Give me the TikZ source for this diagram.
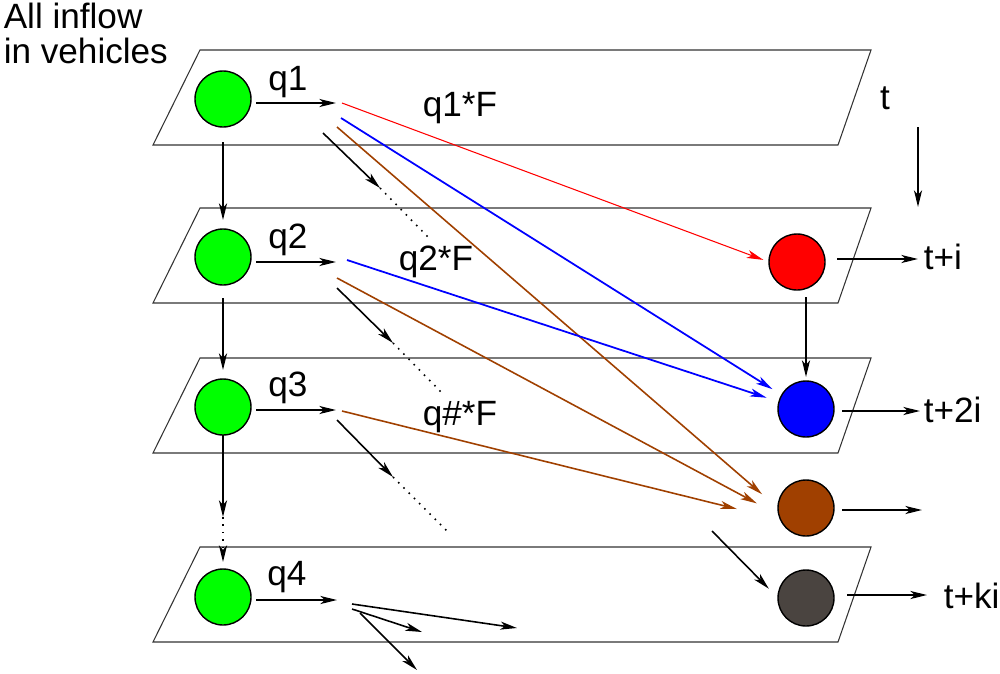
\documentclass[tikz,border=0pt]{standalone}
\usepackage{fontspec}
\setmainfont{Liberation Sans}
\usetikzlibrary{arrows.meta, positioning}

\definecolor{inflow}{RGB}{0,255,0}
\definecolor{rust}{RGB}{160,64,0}
\definecolor{soot}{RGB}{74,68,64}

\begin{document}
\begin{tikzpicture}[x=0.2mm, y=-0.2mm, line width=0.9pt,
    >={Stealth[length=9.5pt, width=4.6pt, inset=2.6pt]},
    veh/.style={circle, draw, line width=0.8pt, minimum size=11.2mm, inner sep=0pt, outer sep=0pt},
    lbl/.style={font=\fontsize{20}{20}\selectfont, inner sep=0pt},
    plane/.style={draw=black!80, line width=0.6pt},
    gap/.style={dash pattern=on 0.9pt off 3.3pt}]
    \useasboundingbox (0,0) rectangle (1000,673);

    % time slices
    \foreach \y in {50,208,358,547}
        \draw[plane] (200,\y) -- (871,\y) -- (838,\y+95) -- (153,\y+95) -- cycle;

    \node[lbl, anchor=north west, align=left] (head) at (3,2) {All inflow\\in vehicles};

    % inflow per slice
    \node[veh, fill=inflow] (in1) at (223,99) {};
    \node[veh, fill=inflow] (in2) at (223,257) {};
    \node[veh, fill=inflow] (in3) at (223,407) {};
    \node[veh, fill=inflow] (in4) at (223,597) {};

    % vehicles reaching the end
    \node[veh, fill=red] (out1) at (797,262) {};
    \node[veh, fill=blue] (out2) at (806,409) {};
    \node[veh, fill=rust] (out3) at (806,508) {};
    \node[veh, fill=soot] (out4) at (806,598) {};

    \draw[->, shorten <=3mm, shorten >=1.8mm] (in1) -- (in2);
    \draw[->, shorten <=2.6mm, shorten >=1.8mm] (in2) -- (in3);
    \coordinate (dd) at (223,517);
    \draw[->] (in3) -- (dd);
    \draw[->, gap, shorten >=1.4mm] (dd) -- (in4);

    \coordinate (h1) at (336,103);
    \coordinate (h2) at (336,262);
    \coordinate (h3) at (336,410);
    \coordinate (h4) at (337,600);
    \foreach \i in {1,...,4}
        \draw[->, shorten <=1mm] (in\i.east |- h\i) -- (h\i);

    \node[lbl, anchor=base] (l1) at (288,90) {q1};
    \node[lbl, anchor=base] (l2) at (288,248) {q2};
    \node[lbl, anchor=base] (l3) at (288,396) {q3};
    \node[lbl, anchor=base] (l4) at (287,585) {q4};

    \node[lbl, anchor=base] (f1) at (460,116) {q1*F};
    \node[lbl, anchor=base] (f2) at (436,270) {q2*F};
    \node[lbl, anchor=base] (f3) at (460,425) {q\#*F};

    % spread of q1
    \coordinate (r1) at (342,103);
    \coordinate (b1) at (341,118);
    \coordinate (o1) at (337,127);
    \coordinate (k1) at (323,133);
    \coordinate (k1e) at (380,188);
    \coordinate (k1d) at (428,237);
    \draw[->, red, line width=0.6pt, shorten >=1.2mm] (r1) -- (out1.west);
    \draw[->, blue, line width=1pt, shorten >=2.2mm] (b1) -- (out2.150);
    \draw[->, rust, shorten >=4.2mm] (o1) -- (out3.west);
    \draw[->] (k1) -- (k1e);
    \draw[gap] (k1e) -- (k1d);

    % spread of q2
    \coordinate (b2) at (347,260);
    \coordinate (o2) at (337,278);
    \coordinate (k2) at (337,288);
    \coordinate (k2e) at (393,343);
    \coordinate (k2d) at (442,393);
    \draw[->, blue, line width=1pt, shorten >=2.6mm] (b2) -- (out2.165);
    \draw[->, rust, shorten >=5mm] (o2) -- (out3.195);
    \draw[->] (k2) -- (k2e);
    \draw[gap] (k2e) -- (k2d);

    % spread of q3
    \coordinate (o3) at (342,411);
    \coordinate (k3) at (337,420);
    \coordinate (k3e) at (393,477);
    \coordinate (k3d) at (448,532);
    \draw[->, rust, shorten >=9mm] (o3) -- (out3.205);
    \draw[->] (k3) -- (k3e);
    \draw[gap] (k3e) -- (k3d);

    \coordinate (k4) at (712,531);
    \draw[->, shorten >=2.6mm] (k4) -- (out4.west);

    % spread of q4
    \coordinate (p1) at (352,604);
    \coordinate (p1e) at (517,628);
    \coordinate (p2) at (352,609);
    \coordinate (p2e) at (422,632);
    \coordinate (p3) at (360,613);
    \coordinate (p3e) at (417,670);
    \draw[->] (p1) -- (p1e);
    \draw[->] (p2) -- (p2e);
    \draw[->] (p3) -- (p3e);

    % leaving
    \draw[->, shorten <=1.4mm, shorten >=0.8mm] (out1.south -| out2.north) -- (out2.north);
    \coordinate (e1) at (918,259);
    \coordinate (e2) at (920,411);
    \coordinate (e3) at (922,510);
    \coordinate (e4) at (927,595);
    \draw[->, shorten <=2.4mm] (out1.east |- e1) -- (e1);
    \draw[->, shorten <=1.6mm] (out2.east |- e2) -- (e2);
    \draw[->, shorten <=1.6mm] (out3.east |- e3) -- (e3);
    \draw[->, shorten <=2.6mm] (out4.east |- e4) -- (e4);
    \node[lbl, anchor=base west] (t1) at (923,269) {t+i};
    \node[lbl, anchor=base west] (t2) at (923,422) {t+2i};
    \node[lbl, anchor=base west] (t4) at (943,608) {t+ki};

    % time axis
    \node[lbl, anchor=base] (t0) at (885,109) {t};
    \coordinate (ts) at (918,127);
    \coordinate (te) at (918,207);
    \draw[->] (ts) -- (te);
\end{tikzpicture}
\end{document}
